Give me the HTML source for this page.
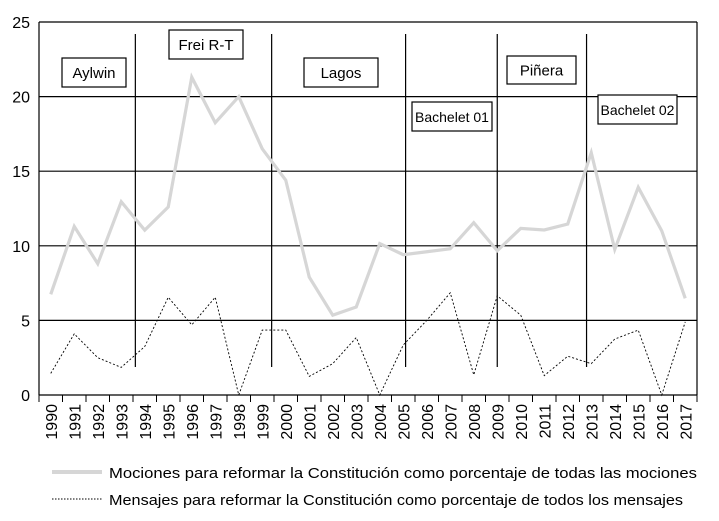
<!DOCTYPE html>
<html><head><meta charset="utf-8"><style>
body{margin:0;background:#fff}
svg{display:block;font-family:"Liberation Sans",sans-serif}
</style></head><body>
<svg id="chart" width="719" height="521" viewBox="0 0 719 521"></svg>
<script>
const years=[1990,1991,1992,1993,1994,1995,1996,1997,1998,1999,2000,2001,2002,2003,2004,2005,2006,2007,2008,2009,2010,2011,2012,2013,2014,2015,2016,2017];
const mociones=[6.75,11.3,8.8,12.95,11.05,12.6,21.3,18.25,20.0,16.5,14.4,7.9,5.35,5.9,10.15,9.4,9.6,9.8,11.55,9.67,11.17,11.06,11.46,16.24,9.76,13.92,11.0,6.48];
const mensajes=[1.45,4.1,2.5,1.85,3.25,6.55,4.7,6.55,0,4.35,4.35,1.25,2.1,3.85,0,3.35,5.0,6.85,1.35,6.65,5.35,1.3,2.6,2.1,3.75,4.35,0,4.9];
const yTicks=[0,5,10,15,20,25];
const periods=["Aylwin","Frei R-T","Lagos","Bachelet 01","Piñera","Bachelet 02"];
const periodBreaks=[1993.6,1999.4,2005.1,2009.0,2012.8];

const NS="http://www.w3.org/2000/svg";
const svg=document.getElementById('chart');
const L=39,R=697,T=22,B=395;
const band=(R-L)/years.length;
function xs(i){return L+(i+0.5)*band;}
function xYear(y){return xs(y-years[0]);}
function ys(v){return B-(v/25)*(B-T);}
function mk(tag,attrs,parent){const e=document.createElementNS(NS,tag);for(const k in attrs)e.setAttribute(k,attrs[k]);(parent||svg).appendChild(e);return e;}

yTicks.forEach(t=>{
  const g=mk('line',{x1:L,x2:R,y1:ys(t),y2:ys(t),stroke:'#000','stroke-width':1.2});
  
  
  const lb=mk('text',{x:30,y:ys(t)+6,'text-anchor':'end','font-size':16,fill:'#000'});
  lb.textContent=t;
  
  
});
const ax=mk('line',{x1:L,x2:L,y1:T,y2:B,stroke:'#000','stroke-width':1.2});


const ax2=mk('line',{x1:R,x2:R,y1:T,y2:B,stroke:'#000','stroke-width':1.2});


for(let i=0;i<=years.length;i++){
  const tk=mk('line',{x1:L+i*band,x2:L+i*band,y1:B,y2:B+7,stroke:'#000','stroke-width':1});
  
  
}
years.forEach((y,i)=>{
  const x=xs(i)+6;
  const lb=mk('text',{x:x,y:404,'font-size':16,'text-anchor':'end',transform:`rotate(-90 ${x} 404)`,fill:'#000'});
  lb.textContent=y;
  
  
});
periodBreaks.forEach(y=>{
  const x=xYear(y);
  const ln=mk('line',{x1:x,x2:x,y1:34,y2:367,stroke:'#000','stroke-width':1.2});
  
  
});
const p1=mk('polyline',{points:mociones.map((v,i)=>xs(i)+','+ys(v)).join(' '),fill:'none',stroke:'#d6d6d6','stroke-width':3.2,'stroke-linejoin':'miter'});


const p2=mk('polyline',{points:mensajes.map((v,i)=>xs(i)+','+ys(v)).join(' '),fill:'none',stroke:'#000','stroke-width':0.9,'stroke-dasharray':'2,2'});


const boxes=[[62,58,64,29],[169,30,74,29],[304,58,74,29],[412,102,80,29],[507,56,69,28],[598,95,79,29]];
periods.forEach((p,k)=>{
  const b=boxes[k];
  const r=mk('rect',{x:b[0],y:b[1],width:b[2],height:b[3],fill:'#fff',stroke:'#000','stroke-width':1.2});
  
  
  const t=mk('text',{x:b[0]+b[2]/2,y:b[1]+b[3]/2+5.5,'text-anchor':'middle','font-size':p.length>8?14:15,fill:'#000'});
  t.textContent=p;
  
  
});
const l1=mk('line',{x1:52,x2:102,y1:472,y2:472,stroke:'#d6d6d6','stroke-width':4});


const t1=mk('text',{x:109,y:478,'font-size':15,textLength:588,lengthAdjust:'spacingAndGlyphs',fill:'#000'});
t1.textContent='Mociones para reformar la Constitución como porcentaje de todas las mociones';


const l2=mk('line',{x1:52,x2:102,y1:499,y2:499,stroke:'#000','stroke-width':0.9,'stroke-dasharray':'1.5,1.5'});


const t2=mk('text',{x:109,y:505,'font-size':15,textLength:574,lengthAdjust:'spacingAndGlyphs',fill:'#000'});
t2.textContent='Mensajes para reformar la Constitución como porcentaje de todos los mensajes';


</script>
</body></html>
